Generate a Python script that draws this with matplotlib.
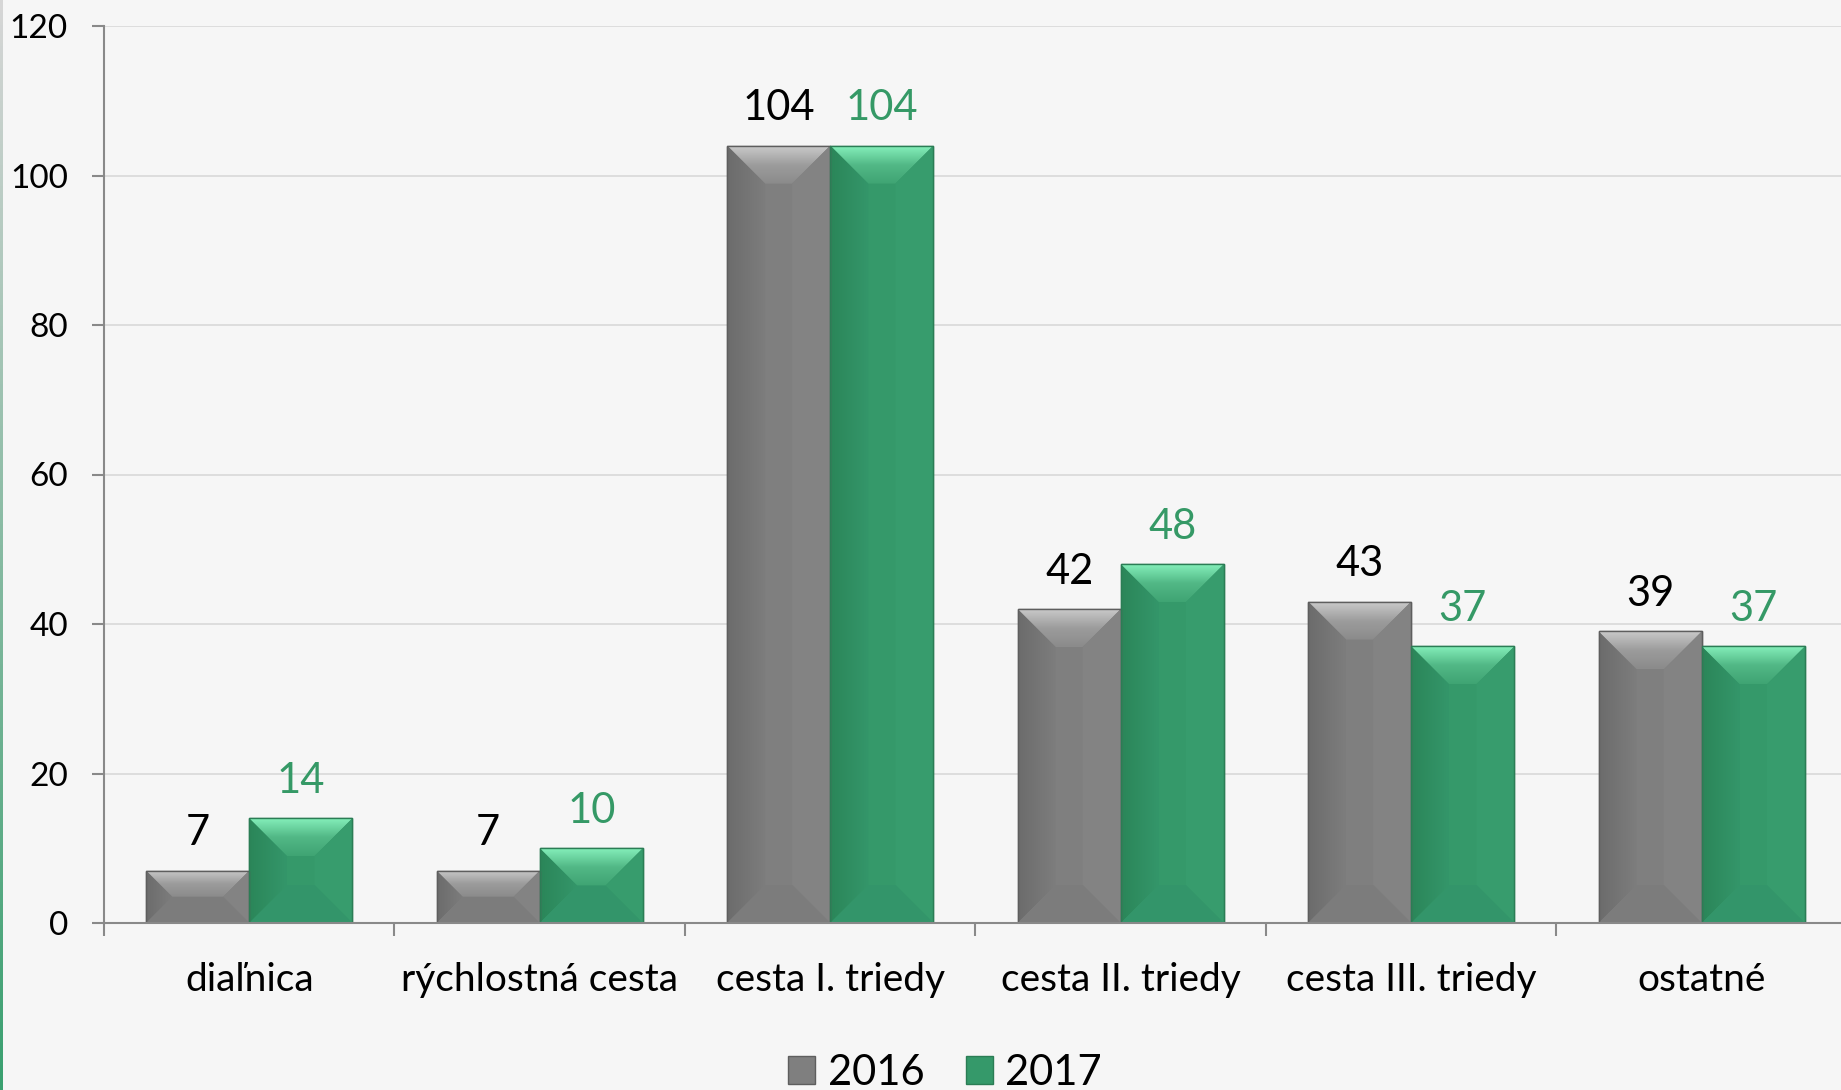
import numpy as np
import matplotlib
matplotlib.use("Agg")
import matplotlib.pyplot as plt
from matplotlib.patches import Polygon, Patch
from matplotlib.colors import LinearSegmentedColormap

plt.rcParams['font.family'] = ['Lato', 'DejaVu Sans']

# data
categories = ['diaľnica', 'rýchlostná cesta', 'cesta I. triedy',
              'cesta II. triedy', 'cesta III. triedy', 'ostatné']
values_2016 = [7, 7, 104, 42, 43, 39]
values_2017 = [14, 10, 104, 48, 37, 37]
series_names = ['2016', '2017']
y_ticks = [0, 20, 40, 60, 80, 100, 120]

gray = '#7f7f7f'
green = '#35996a'
label_green = '#359966'
bg = '#f6f6f6'

W, H = 1841, 1090
fig = plt.figure(figsize=(W / 100, H / 100), dpi=100, facecolor=bg)
ax_left, ax_bottom = 104 / W, 1 - 923 / H
ax_w, ax_h = (1847 - 104) / W, (923 - 26) / H
ax = fig.add_axes([ax_left, ax_bottom, ax_w, ax_h])
ax.set_facecolor('none')

x = np.arange(len(categories))
bw = 0.355
xlim = (-0.5, len(categories) - 0.5)
ylim = (0, 120)

bars_a = ax.bar(x - bw / 2, values_2016, bw, color=gray, edgecolor='#5e5e5e', linewidth=1, zorder=3)
bars_b = ax.bar(x + bw / 2, values_2017, bw, color=green, edgecolor='#2b7d55', linewidth=1, zorder=3)

# bevel shading, sizes in pixels converted to data units
px_x = (xlim[1] - xlim[0]) / (ax_w * W)
px_y = (ylim[1] - ylim[0]) / (ax_h * H)
depth = 38


def grad_cmap(*cols):
    return LinearSegmentedColormap.from_list('g', list(cols))


def bevel(bar, top_cols, left_cols, bottom_col, right_col):
    x0 = bar.get_x()
    x1 = x0 + bar.get_width()
    h = bar.get_height()
    d_px = min(depth, h / px_y / 2)
    dx, dy = d_px * px_x, d_px * px_y
    # top
    poly = Polygon([(x0, h), (x1, h), (x1 - dx, h - dy), (x0 + dx, h - dy)], closed=True,
                   facecolor='none', edgecolor='none', zorder=4)
    ax.add_patch(poly)
    im = ax.imshow(np.linspace(1, 0, 60).reshape(-1, 1), cmap=grad_cmap(*top_cols),
                   extent=[x0, x1, h - dy, h], aspect='auto', zorder=4, origin='upper')
    im.set_clip_path(poly)
    # left
    poly = Polygon([(x0, 0), (x0, h), (x0 + dx, h - dy), (x0 + dx, dy)], closed=True,
                   facecolor='none', edgecolor='none', zorder=4)
    ax.add_patch(poly)
    im = ax.imshow(np.linspace(0, 1, 50).reshape(1, -1), cmap=grad_cmap(*left_cols),
                   extent=[x0, x0 + dx, 0, h], aspect='auto', zorder=4)
    im.set_clip_path(poly)
    # right
    ax.add_patch(Polygon([(x1, 0), (x1, h), (x1 - dx, h - dy), (x1 - dx, dy)], closed=True,
                         facecolor=right_col, edgecolor='none', zorder=4))
    # bottom
    ax.add_patch(Polygon([(x0, 0), (x1, 0), (x1 - dx, dy), (x0 + dx, dy)], closed=True,
                         facecolor=bottom_col, edgecolor='none', zorder=4))


for b in bars_a:
    bevel(b, ('#8b8b8b', '#9c9c9c', '#c9c9c9'), ('#6c6c6c', '#7d7d7d'), '#7c7c7c', '#838383')
for b in bars_b:
    bevel(b, ('#3fa473', '#52b886', '#84efba'), ('#2b8659', '#34966a'), '#33956a', '#379c6d')

# redraw bar outlines above bevels
for b in list(bars_a) + list(bars_b):
    ax.add_patch(plt.Rectangle((b.get_x(), 0), b.get_width(), b.get_height(), fill=False,
                               edgecolor=b.get_edgecolor(), linewidth=1, zorder=5))

# value labels
for b, v in zip(bars_a, values_2016):
    ax.annotate(str(v), (b.get_x() + b.get_width() / 2, v), xytext=(0, 27),
                textcoords='offset points', ha='center', va='center', fontsize=30, color='black')
for b, v in zip(bars_b, values_2017):
    ax.annotate(str(v), (b.get_x() + b.get_width() / 2, v), xytext=(0, 27),
                textcoords='offset points', ha='center', va='center', fontsize=30, color=label_green)

ax.set_xlim(*xlim)
ax.set_ylim(*ylim)
ax.set_yticks(y_ticks)
ax.set_yticklabels([str(t) for t in y_ticks])
ax.set_xticks(np.arange(-0.5, len(categories)), labels=[''] * (len(categories) + 1))
ax.set_xticks(x, labels=categories, minor=True)
ax.tick_params(axis='x', which='minor', length=0, pad=28, labelsize=28)
ax.tick_params(axis='x', which='major', length=9, width=1.5, color='#898989')
ax.tick_params(axis='y', length=9, width=1.5, color='#898989', pad=17, labelsize=24)

ax.grid(axis='y', color='#d9d9d9', linewidth=1.2, zorder=0)
ax.set_axisbelow(True)
for s in ['top', 'right']:
    ax.spines[s].set_visible(False)
for s in ['left', 'bottom']:
    ax.spines[s].set_color('#898989')
    ax.spines[s].set_linewidth(1.5)
    ax.spines[s].set_zorder(6)

handles = [Patch(facecolor=gray, edgecolor='#5e5e5e'), Patch(facecolor=green, edgecolor='#2b7d55')]
fig.legend(handles, series_names, loc='center', bbox_to_anchor=(945 / W, 1 - 1073 / H),
           ncol=2, frameon=False, fontsize=30, handlelength=0.65, handleheight=0.65,
           handletextpad=0.3, columnspacing=1.0)

# thin gradient strip on the left edge
strip = fig.add_axes([0, 0, 2.5 / W, 1])
strip.imshow(np.linspace(0, 1, 100).reshape(-1, 1), cmap=grad_cmap('#d6d6d6', '#3aa070'),
             aspect='auto', origin='upper')
strip.axis('off')

fig.savefig('out.png', dpi=100, facecolor=bg)
